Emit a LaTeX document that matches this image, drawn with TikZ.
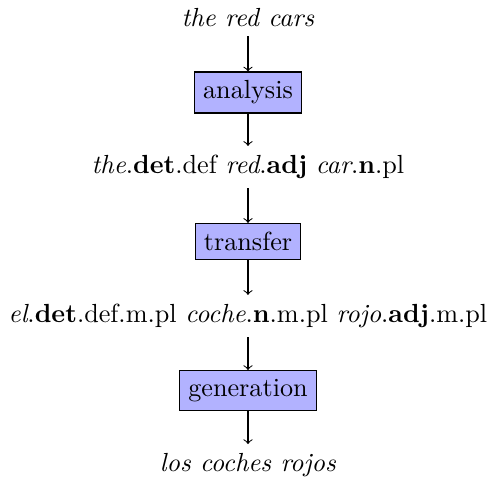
\documentclass[tikz,border=0pt]{standalone}
\usepackage{amsmath,amssymb}
\usepackage{tikz}

\tikzset{module/.style = {draw, fill = blue!30}}

\begin{document}
\begin{tikzpicture}

\node (src) at (0,0) {\textit{the red cars}};
\node [module] (ana) at (0,-1) {analysis};

\node (srcan) at (0,-2) {\textit{the}.\textbf{det}.def \textit{red}.\textbf{adj} \textit{car}.\textbf{n}.pl};
\node [module] (tra) at (0,-3) {transfer};

\node (tgtan) at (0,-4) {\textit{el}.\textbf{det}.def.m.pl \textit{coche}.\textbf{n}.m.pl \textit{rojo}.\textbf{adj}.m.pl};
\node [module] (gen) at (0,-5) {generation};

\node (tgt) at (0,-6) {\textit{los coches rojos}};

\draw[->] (src) -- (ana);
\draw[->] (ana) -- (srcan);
\draw[->] (srcan) -- (tra);
\draw[->] (tra) -- (tgtan);
\draw[->] (tgtan) -- (gen);
\draw[->] (gen) -- (tgt);

\end{tikzpicture}
\end{document}
